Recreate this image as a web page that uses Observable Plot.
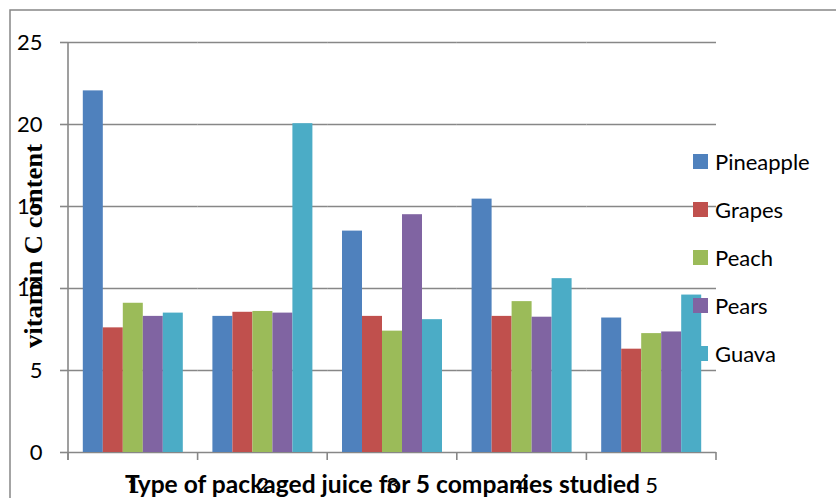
<!DOCTYPE html>
<html><head><meta charset="utf-8">
<script src="https://cdn.jsdelivr.net/npm/d3@7"></script>
<script src="https://cdn.jsdelivr.net/npm/@observablehq/plot@0.6"></script>
<style>
body{margin:0;background:#fff;}
#chart{position:relative;width:836px;height:498px;overflow:hidden;}
</style></head><body><div id="chart"></div>
<script>
const companies = ["1", "2", "3", "4", "5"];
const fruits = ["Pineapple", "Grapes", "Peach", "Pears", "Guava"];
const colors = ["#4F81BD", "#C0504D", "#9BBB59", "#8064A2", "#4BACC6"];
const pineapple = [22.05, 8.3, 13.5, 15.45, 8.2];
const grapes = [7.6, 8.55, 8.3, 8.3, 6.3];
const peach = [9.1, 8.6, 7.4, 9.2, 7.25];
const pears = [8.3, 8.5, 14.5, 8.25, 7.35];
const guava = [8.5, 20.05, 8.1, 10.6, 9.6];
const yTicks = [0, 5, 10, 15, 20, 25];
const xTitle = "Type of packaged juice for 5 companies studied";
const yTitle = "vitamin C content";

const seriesValues = [pineapple, grapes, peach, pears, guava];
const data = companies.flatMap((c, i) => fruits.map((f, j) => ({company: c, fruit: f, value: seriesValues[j][i]})));

const gray = "#878787";
const chart = Plot.plot({
  width: 836, height: 498,
  marginLeft: 68, marginRight: 120, marginTop: 42, marginBottom: 46,
  style: {background: "white", fontFamily: "Lato, sans-serif", fontSize: "22px", color: "#000", overflow: "visible"},
  facet: {data, x: "company"},
  fx: {domain: companies, paddingInner: 0, paddingOuter: 0, round: false, label: null, axis: "bottom", tickSize: 0, tickPadding: 25},
  x: {domain: fruits, axis: null, paddingInner: 0, paddingOuter: 0.74, round: false},
  y: {domain: [0, 25], ticks: yTicks, label: null, tickSize: 8, tickPadding: 18, tickFormat: d => String(d)},
  color: {domain: fruits, range: colors},
  marks: [
    Plot.ruleY(yTicks, {stroke: gray, strokeWidth: 1.6}),
    Plot.barY(data, {x: "fruit", y: "value", fill: "fruit"})
  ]
});
document.getElementById("chart").appendChild(chart);

const svg = d3.select(chart);
svg.selectAll('g[aria-label^="y-axis"] line, g[aria-label^="y-axis"] path').style("stroke", gray).style("stroke-width", 1.6);
svg.selectAll('g[aria-label^="y-axis"]').attr("stroke", gray);
svg.selectAll('g[aria-label^="y-axis"] text').attr("stroke", "none").attr("fill", "#000");

const fxS = chart.scale("fx");
const yS = chart.scale("y");
const fxBand = d3.scaleBand(fxS.domain, fxS.range).paddingInner(0).paddingOuter(0);
const yLin = d3.scaleLinear(yS.domain, yS.range);
const x0 = fxBand.range()[0], x1 = fxBand.range()[1];
const yBase = yLin(0), yTop = yLin(25);

// outer border
svg.insert("rect", ":first-child").attr("x", 10).attr("y", 10).attr("width", 1000).attr("height", 1000)
  .attr("fill", "none").attr("stroke", gray).attr("stroke-width", 1.5);

const ax = svg.append("g").attr("stroke", gray).attr("stroke-width", 1.6);
ax.append("line").attr("x1", x0).attr("x2", x0).attr("y1", yTop).attr("y2", yBase + 8);
const bounds = companies.map(c => fxBand(c)).concat([x1]);
ax.selectAll("line.b").data(bounds).join("line").attr("class", "b")
  .attr("x1", d => d).attr("x2", d => d).attr("y1", yBase).attr("y2", yBase + 8);

// legend
const lg = svg.append("g").attr("font-family", "Lato, sans-serif").attr("font-size", 22).attr("text-anchor", "start");
fruits.forEach((f, i) => {
  const by = 170 + 48 * i;
  lg.append("rect").attr("x", 693).attr("y", by - 16).attr("width", 15).attr("height", 15).attr("fill", colors[i]);
  lg.append("text").attr("x", 715).attr("y", by).attr("fill", "#000").attr("text-anchor", "start").text(f);
});

// axis titles
svg.append("text").attr("x", 125).attr("y", 493).attr("text-anchor", "start").attr("font-family", "Lato, sans-serif").attr("font-weight", "bold")
  .attr("font-size", 24).attr("fill", "#000").attr("textLength", 515).attr("lengthAdjust", "spacingAndGlyphs").text(xTitle);
svg.append("text").attr("transform", "translate(42,246) rotate(-90)").attr("text-anchor", "middle")
  .attr("font-family", "'Liberation Serif', serif").attr("font-weight", "bold").attr("font-size", 26)
  .attr("fill", "#000").attr("textLength", 204).attr("lengthAdjust", "spacingAndGlyphs").text(yTitle);
</script></body></html>
